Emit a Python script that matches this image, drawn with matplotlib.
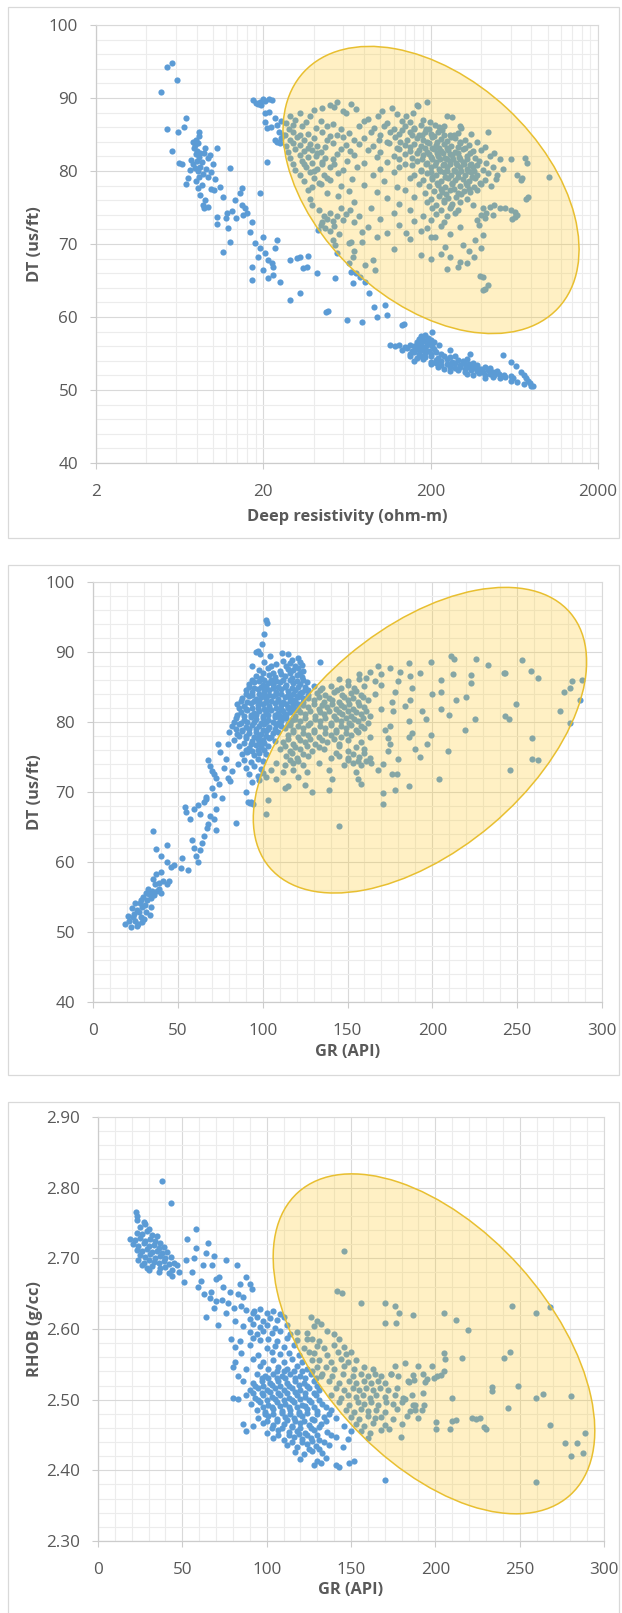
import numpy as np
import matplotlib
matplotlib.use("Agg")
import matplotlib.pyplot as plt
from matplotlib.patches import Ellipse, Rectangle
from matplotlib.transforms import ScaledTranslation
from matplotlib.ticker import FixedLocator, MultipleLocator, FuncFormatter

plt.rcParams['font.family'] = ['Open Sans', 'DejaVu Sans']

# ---------- panel 1 : deep resistivity (ohm-m) vs DT (us/ft) ----------
shale_res_dt = [
    (4.9, 90.8), (5.3, 94.2), (5.7, 94.8), (6.1, 92.4),
    (5.3, 85.8), (5.7, 82.8), (6.2, 85.4), (6.7, 86.0), (6.9, 87.3), (6.3, 81.1), (6.5, 81.0),
    (6.9, 78.2), (7.1, 79.0), (7.3, 80.2), (7.4, 81.5),
    (7.6, 84.0), (7.8, 83.6), (7.9, 84.3), (7.7, 83.1), (8.0, 82.8), (8.1, 83.8), (8.2, 84.8),
    (8.3, 85.3), (7.9, 82.3), (8.2, 81.9), (8.4, 82.5), (8.0, 81.4), (7.6, 80.9), (7.8, 80.4),
    (8.1, 80.0), (8.4, 80.6), (8.6, 81.2), (8.8, 82.4), (9.0, 83.1), (8.7, 79.6), (8.3, 79.2),
    (7.9, 78.6), (8.1, 77.7), (8.6, 78.1), (9.1, 80.3), (9.4, 81.8), (9.6, 82.2), (9.3, 79.2),
    (9.8, 79.8), (10.3, 78.9), (10.6, 83.2), (10.0, 81.0), (9.7, 77.6), (10.2, 77.4), (8.4, 76.7),
    (8.7, 75.3), (9.3, 75.1), (8.9, 74.9), (9.0, 76.0),
    (10.6, 73.7), (10.6, 72.8), (11.5, 68.9), (12.6, 70.3), (12.3, 72.2), (12.1, 74.2), (11.5, 76.4),
    (13.5, 76.0), (14.5, 77.0), (14.9, 77.7), (12.6, 80.4), (14.9, 75.3), (15.6, 74.9), (16.0, 74.2),
    (17.2, 73.0), (16.6, 71.6), (17.9, 70.1), (19.1, 69.5), (20.4, 68.8), (21.3, 67.8), (22.5, 67.4),
    (17.0, 66.9), (17.0, 65.1), (20.0, 71.0), (19.1, 77.0), (21.0, 81.3), (24.0, 70.5), (23.4, 69.4),
    (22.8, 66.9), (21.4, 65.3), (22.8, 65.8), (25.0, 64.8), (18.5, 68.2), (19.8, 66.4), (13.0, 74.5),
    (11.0, 77.8), (12.0, 73.5), (13.8, 73.6), (15.2, 74.0),
    (17.3, 89.7), (18.2, 89.3), (19.0, 89.5), (19.8, 89.8), (20.6, 89.6), (21.6, 89.9), (22.5, 89.7),
    (19.4, 89.0), (18.7, 89.2), (20.4, 88.0), (21.6, 88.1), (20.6, 86.7), (21.1, 85.9), (23.6, 87.3),
    (24.2, 86.3), (24.8, 85.3), (23.6, 84.2), (24.2, 84.0), (25.6, 84.5), (22.3, 86.0), (25.5, 86.8),
    (26.2, 85.0), (25.0, 83.9),
    (29, 62.3), (33, 63.3), (47.6, 60.7), (48.5, 60.8), (63, 59.6), (78, 59.3), (66.4, 66.2), (72, 66.0),
    (69, 64.7), (75.7, 65.5), (81, 64.8), (86, 63.3), (92, 61.4), (96, 60.0), (109, 60.3), (106, 61.6),
    (135, 58.9), (138, 59.0), (28.9, 67.8), (32.9, 68.2), (34.6, 66.7), (41.6, 66.0), (36.5, 66.9),
    (37, 68.3), (32, 68.1), (42.7, 71.9), (53.6, 69.9), (55, 68.8), (53.6, 65.3), (64.6, 67.4),
]
tight_res_dt = [
    (203, 57.9), (175, 57.4), (185, 57.6), (170, 57.0), (180, 56.9), (192, 57.1), (200, 56.8),
    (165, 56.6), (175, 56.4), (185, 56.7), (195, 56.5), (210, 56.6), (114, 56.1), (122, 56.0),
    (130, 56.2), (140, 55.9), (150, 56.2), (160, 56.0), (170, 56.2), (180, 55.9), (190, 56.1),
    (205, 56.0), (225, 56.2), (135, 55.5), (145, 55.7), (155, 55.4), (165, 55.6), (175, 55.5),
    (185, 55.7), (195, 55.4), (210, 55.6), (260, 55.5), (150, 55.0), (160, 55.2), (170, 54.9),
    (185, 55.1), (200, 55.0), (215, 55.2), (230, 54.9), (345, 55.0), (150, 54.6), (165, 54.4),
    (175, 54.7), (185, 54.5), (200, 54.6), (220, 54.4), (240, 54.7), (260, 54.5), (280, 54.6),
    (540, 54.8), (160, 54.0), (180, 54.2), (200, 53.9), (215, 54.1), (230, 54.0), (250, 54.2),
    (270, 53.9), (290, 54.1), (310, 54.0), (330, 54.2), (200, 53.5), (215, 53.7), (230, 53.4),
    (250, 53.6), (265, 53.5), (280, 53.7), (300, 53.4), (320, 53.6), (340, 53.5), (360, 53.7),
    (380, 53.4), (608, 53.8), (220, 53.1), (240, 52.9), (260, 53.2), (280, 53.0), (300, 53.1),
    (320, 52.9), (340, 53.2), (360, 53.0), (380, 53.1), (400, 52.9), (420, 53.2), (450, 53.0),
    (650, 53.3), (260, 52.6), (290, 52.7), (320, 52.5), (350, 52.7), (380, 52.6), (410, 52.4),
    (440, 52.7), (470, 52.5), (500, 52.6), (690, 52.5), (330, 52.2), (360, 52.0), (390, 52.3),
    (420, 52.1), (450, 52.2), (480, 52.0), (510, 52.2), (550, 52.1), (600, 51.9), (720, 52.1),
    (420, 51.7), (470, 51.8), (520, 51.6), (560, 51.8), (620, 51.6), (740, 51.7), (600, 51.2),
    (660, 51.1), (760, 51.3), (720, 50.8), (780, 50.9), (800, 50.5), (820, 50.6),
]
pay_res_dt = [
    (50, 89.1), (55, 89.4), (67, 89.2), (165, 89.0), (190, 89.5),
    (40, 88.3), (45, 88.6), (53, 88.7), (60, 88.2), (72, 88.5), (103, 88.2), (118, 88.6), (168, 88.9),
    (29, 87.5), (33, 87.9), (38, 87.6), (62, 87.9), (97, 87.6), (125, 87.8), (143, 87.5), (157, 87.9),
    (250, 87.6), (270, 87.4),
    (27.5, 86.6), (31, 87.0), (36, 86.7), (44, 86.9), (52, 86.5), (80, 86.8), (85, 87.1), (110, 86.6),
    (135, 86.9), (150, 86.7), (180, 87.0), (198, 86.7), (212, 86.3), (300, 86.1),
    (28.5, 85.8), (34, 86.2), (41, 85.9), (48, 86.1), (58, 85.7), (75, 86.1), (92, 85.9), (105, 86.2),
    (120, 85.8), (140, 86.1), (160, 85.9), (175, 86.3), (188, 85.7), (225, 86.0), (240, 86.2),
    (303, 85.9), (440, 85.3),
    (27, 85.0), (30, 85.4), (37, 85.1), (45, 85.3), (55, 84.9), (65, 85.2), (88, 85.4), (100, 85.0),
    (115, 85.3), (130, 85.1), (150, 85.4), (170, 85.0), (185, 85.3), (200, 85.1), (220, 85.4),
    (260, 85.0), (290, 85.2), (350, 85.1),
    (29, 84.2), (32, 84.6), (35, 84.3), (40, 84.5), (48, 84.2), (60, 84.6), (70, 84.3), (80, 84.5),
    (98, 84.2), (122, 84.6), (145, 84.3), (165, 84.5), (180, 84.2), (205, 84.6), (230, 84.4),
    (250, 84.1), (280, 84.5), (320, 84.3), (380, 84.0), (265, 84.7),
    (27.5, 83.4), (30, 83.8), (33, 83.5), (38, 83.7), (42, 83.4), (52, 83.8), (62, 83.5), (75, 83.7),
    (90, 83.4), (112, 83.8), (140, 83.5), (160, 83.7), (175, 83.4), (195, 83.8), (215, 83.5),
    (240, 83.7), (265, 83.4), (300, 83.8), (340, 83.5), (420, 83.3),
    (28, 82.6), (31, 83.0), (35, 82.7), (39, 82.9), (44, 82.6), (58, 83.0), (66, 82.7), (85, 82.9),
    (100, 82.6), (130, 83.0), (150, 82.7), (170, 82.9), (190, 82.6), (210, 83.0), (230, 82.7),
    (255, 82.9), (280, 82.6), (310, 83.0), (360, 82.7), (400, 82.9), (480, 82.5),
    (29, 81.8), (33, 82.2), (37, 81.9), (41, 82.1), (47, 81.8), (70, 82.2), (95, 81.9), (120, 82.1),
    (155, 81.8), (180, 82.2), (200, 81.9), (220, 82.1), (245, 81.8), (270, 82.2), (295, 81.9),
    (330, 82.1), (370, 81.8), (450, 82.0), (520, 81.7),
    (30, 81.0), (34, 81.4), (39, 81.1), (45, 81.3), (53, 81.0), (63, 81.4), (80, 81.1), (110, 81.3),
    (140, 81.0), (165, 81.4), (190, 81.1), (215, 81.3), (240, 81.0), (260, 81.4), (285, 81.1),
    (310, 81.3), (350, 81.0), (390, 81.4), (430, 81.1), (600, 81.6), (735, 81.8),
    (31, 80.2), (36, 80.6), (42, 80.3), (50, 80.5), (60, 80.2), (73, 80.6), (100, 80.3), (130, 80.5),
    (175, 80.2), (200, 80.6), (225, 80.3), (250, 80.5), (275, 80.2), (300, 80.6), (330, 80.3),
    (360, 80.5), (410, 80.2), (470, 80.6), (540, 80.3), (757, 81.1),
    (33, 79.4), (38, 79.8), (46, 79.5), (56, 79.7), (90, 79.4), (120, 79.8), (160, 79.5), (190, 79.7),
    (215, 79.4), (240, 79.8), (265, 79.5), (290, 79.7), (320, 79.4), (350, 79.8), (380, 79.5),
    (440, 79.7), (500, 79.4), (660, 79.4), (700, 79.0),
    (35, 78.6), (40, 79.0), (50, 78.7), (68, 78.9), (105, 78.6), (150, 79.0), (180, 78.7), (205, 78.9),
    (230, 78.6), (255, 79.0), (280, 78.7), (310, 78.9), (340, 78.6), (370, 79.0), (420, 78.7),
    (490, 78.9), (694, 78.8), (1016, 79.2),
    (39, 77.8), (44, 78.2), (58, 77.9), (80, 78.1), (125, 77.8), (170, 78.2), (195, 77.9), (220, 78.1),
    (245, 77.8), (270, 78.2), (300, 77.9), (330, 78.1), (365, 77.8), (400, 78.2), (460, 77.9),
    (37, 77.4), (48, 77.0), (65, 77.3), (95, 77.1), (140, 77.4), (185, 77.0), (210, 77.3), (235, 77.1),
    (260, 77.4), (290, 77.0), (315, 77.3), (345, 77.1), (380, 77.4),
    (38, 76.2), (56, 76.6), (110, 76.3), (160, 76.5), (200, 76.2), (225, 76.6), (255, 76.3),
    (285, 76.5), (330, 76.2), (765, 76.4), (740, 76.2),
    (39, 75.4), (70, 75.8), (130, 75.5), (190, 75.7), (215, 75.4), (240, 75.8), (270, 75.5),
    (300, 75.7), (360, 75.4), (480, 75.3),
    (43, 74.6), (58, 75.0), (66, 74.7), (88, 74.9), (150, 74.6), (205, 75.0), (230, 74.7), (260, 74.9),
    (290, 74.6), (410, 74.9), (450, 75.1), (520, 75.0), (560, 74.9), (600, 74.6), (640, 74.4),
    (46, 73.8), (50, 74.2), (55, 73.9), (62, 74.1), (75, 73.8), (120, 74.2), (180, 73.9), (215, 74.1),
    (250, 73.8), (280, 74.2), (400, 74.0), (430, 74.3), (470, 74.0), (640, 73.7), (660, 74.0),
    (45, 73.0), (48, 73.4), (52, 73.1), (60, 73.3), (70, 73.0), (100, 73.4), (160, 73.1), (200, 73.3),
    (240, 73.0), (380, 73.3), (420, 73.6), (610, 73.4),
    (44, 72.6), (47, 72.2), (53, 72.5), (85, 72.3), (130, 72.6), (190, 72.2), (230, 72.5), (300, 72.3),
    (390, 72.6),
    (50, 71.8), (57, 71.4), (78, 71.7), (110, 71.5), (143, 71.5), (175, 71.8), (212, 71.0), (260, 71.4),
    (410, 71.2),
    (52, 70.6), (67, 70.3), (95, 70.9), (150, 70.7), (200, 70.9), (310, 69.9), (370, 70.5),
    (65, 70.1), (78, 70.3), (242, 69.6), (398, 69.5),
    (70, 69.0), (120, 69.3), (174, 68.5), (260, 68.2), (340, 69.1),
    (69, 68.2), (90, 67.8), (200, 68.0), (364, 68.2), (230, 68.6),
    (81, 67.1), (290, 66.8), (330, 67.4), (93, 66.4), (250, 66.6), (300, 67.5), (393, 65.6),
    (410, 65.5), (440, 64.4), (410, 63.7), (425, 63.9),
    (135, 85.6), (158, 85.7), (178, 84.9), (195, 85.8), (210, 84.8), (235, 85.6), (275, 84.9),
    (110, 84.0), (132, 84.0), (155, 84.9), (190, 84.0), (218, 84.0), (240, 84.9), (300, 84.0),
    (125, 83.2), (150, 83.3), (185, 83.2), (205, 83.1), (225, 83.2), (252, 83.2), (290, 83.3), (320, 83.2),
    (140, 82.3), (165, 82.4), (195, 82.3), (218, 82.4), (238, 82.4), (262, 82.3), (290, 82.4), (345, 82.4),
    (130, 81.6), (178, 81.7), (203, 81.6), (228, 81.6), (250, 81.7), (272, 81.7), (298, 81.6), (330, 81.6),
    (155, 80.8), (188, 80.9), (212, 80.8), (238, 80.8), (262, 80.9), (288, 80.8), (315, 80.9),
    (345, 80.8), (380, 80.8),
    (175, 80.0), (200, 79.9), (228, 80.0), (252, 80.0), (278, 80.0), (305, 80.0), (335, 80.0), (365, 80.0),
    (205, 79.2), (218, 78.3), (243, 79.2), (268, 78.3), (292, 79.2), (325, 78.3), (355, 79.2), (395, 78.3),
    (230, 77.6), (248, 76.8), (275, 77.6), (305, 76.8), (340, 77.6), (240, 76.0), (265, 75.2),
    (30, 86.3), (33, 84.9), (37, 83.2), (42, 82.5), (35, 80.9), (40, 80.0), (45, 80.9), (48, 79.1),
    (43, 78.4), (52, 81.7), (55, 82.3), (47, 83.3), (50, 84.8),
]

# ---------- panel 2 : GR (API) vs DT (us/ft) ----------
shale_gr_dt = [
    (18.7, 51.2), (22.3, 50.7), (25.8, 50.8), (21, 51.6), (23.4, 52.1), (25, 51.5), (27, 52.9),
    (24, 52.6), (26, 53.2), (28, 52.2), (29, 53.5), (30.5, 53.9), (27.5, 54.1), (31, 52.8),
    (32, 54.5), (29.5, 55.0), (33, 55.4), (34, 54.8), (35, 55.9), (32.5, 56.1), (36, 55.3),
    (36.3, 56.8), (37.5, 55.8), (38.7, 57.0), (41, 57.3), (43.4, 56.8), (44.5, 57.3), (39, 56.2),
    (40, 55.6), (34, 53.6), (30, 51.8), (26.5, 51.2), (23, 53.4), (28, 54.6), (31.5, 55.6),
    (35.5, 57.5), (37, 58.3), (39.8, 58.5), (33.5, 52.4), (20.5, 52.3), (24.5, 54.1), (29, 51.4),
    (35.2, 64.4), (43.4, 62.4), (43.4, 60.0), (45.7, 59.3), (48, 59.5), (51.6, 59.2), (52.7, 60.5),
    (56.2, 58.8), (55, 67.1), (54, 67.8), (57.4, 66.1), (59.8, 67.6), (62.1, 68.1), (63.3, 66.9),
    (65.6, 68.6), (66.8, 69.3), (62.1, 60.0), (63.3, 61.7), (64.5, 62.7), (65.6, 63.7), (68, 65.4),
    (58.6, 63.2), (59.8, 62.0), (69.1, 66.6), (71.5, 66.1), (72.6, 67.6), (72.6, 64.6), (70.3, 70.5),
    (71.5, 69.6), (76.2, 69.1), (68, 74.5), (69.1, 73.7), (71.5, 72.5), (72.6, 72.0), (75, 75.7),
    (73.8, 76.9), (79.7, 76.9), (78.5, 74.7), (79.7, 72.0), (80.9, 71.5), (85.5, 74.0), (84.4, 65.6),
    (90.2, 70.0), (91.4, 68.6), (92.6, 68.4), (37, 61.8), (40, 60.9), (66.5, 69.0), (70, 73.0),
    (74, 71.2), (77, 73.4), (82, 73.0), (61, 60.9), (67, 64.8),
    (102, 94.6), (102.4, 94.1), (100.8, 92.6), (99.6, 91.2), (97.3, 90.2), (98.4, 89.7), (104.3, 89.4),
    (111.3, 89.9), (115, 89.7), (117, 88.9), (120.7, 89.2), (123, 88.2), (133.6, 88.5), (96, 90.0),
    (101, 88.6), (108, 88.3), (112, 88.7), (116, 88.4), (122, 88.5),
    (98, 87.4), (103, 87.7), (110, 87.3), (115, 87.6), (118, 87.4), (121, 87.7), (124, 87.3),
    (96, 86.6), (99, 86.3), (104, 86.7), (107, 86.4), (113, 86.6), (117, 86.3), (120, 86.7), (123, 86.4),
    (92, 85.4), (95, 85.7), (100, 85.3), (103, 85.6), (106, 85.4), (110, 85.7), (114, 85.3),
    (118, 85.6), (122, 85.4), (126, 85.7),
    (90, 84.6), (94, 84.3), (97, 84.7), (101, 84.4), (104, 84.6), (108, 84.3), (111, 84.7),
    (115, 84.4), (119, 84.6), (123, 84.3), (127, 84.5),
    (88, 83.4), (92, 83.7), (96, 83.3), (99, 83.6), (102, 83.4), (106, 83.7), (109, 83.3),
    (113, 83.6), (116, 83.4), (120, 83.7), (124, 83.4),
    (85, 82.6), (89, 82.3), (93, 82.7), (97, 82.4), (100, 82.6), (104, 82.3), (107, 82.7),
    (111, 82.4), (114, 82.6), (118, 82.3), (121, 82.6),
    (87, 81.4), (91, 81.7), (95, 81.3), (98, 81.6), (102, 81.4), (105, 81.7), (109, 81.3),
    (112, 81.6), (116, 81.4), (119, 81.7),
    (84, 80.6), (89, 80.3), (93, 80.7), (96, 80.4), (100, 80.6), (103, 80.3), (107, 80.7),
    (110, 80.4), (113, 80.6), (117, 80.3),
    (82, 79.4), (86, 79.7), (90, 79.3), (94, 79.6), (98, 79.4), (101, 79.7), (104, 79.3),
    (108, 79.6), (111, 79.4), (115, 79.7),
    (80, 78.6), (85, 78.3), (88, 78.7), (92, 78.4), (96, 78.6), (99, 78.3), (102, 78.7), (106, 78.4),
    (109, 78.6),
    (83, 77.4), (90, 77.7), (94, 77.3), (97, 77.6), (100, 77.4), (104, 77.7), (107, 77.3),
    (86, 76.6), (92, 76.3), (96, 76.7), (99, 76.4), (103, 76.6),
    (88, 75.4), (91, 75.7), (95, 75.3), (98, 75.6), (102, 75.4),
    (89, 74.6), (93, 74.3), (97, 74.7), (100, 74.4),
    (90, 73.4), (95, 73.7), (99, 73.3), (92, 72.6), (97, 72.3), (100, 72.7),
    (94, 71.4), (98, 71.7), (93, 68.5), (94.5, 68.3),
    (94, 88.0), (105, 88.0), (114, 88.0), (119, 88.0),
    (100, 87.0), (106, 87.0), (111, 86.9), (116, 87.0), (122, 87.0),
    (94, 86.0), (98, 85.9), (101, 86.0), (105, 86.0), (108, 85.9), (112, 86.0), (116, 86.0),
    (120, 85.9), (124, 86.0),
    (92, 85.0), (95, 84.9), (99, 85.0), (102, 85.0), (106, 84.9), (109, 85.0), (113, 85.0),
    (117, 84.9), (121, 85.0), (125, 85.0),
    (90, 84.0), (94, 83.9), (98, 84.0), (101, 84.0), (104, 83.9), (108, 84.0), (111, 84.0),
    (115, 83.9), (118, 84.0), (122, 84.0),
    (87, 83.0), (91, 82.9), (95, 83.0), (98, 83.0), (102, 82.9), (105, 83.0), (109, 83.0),
    (112, 82.9), (116, 83.0), (119, 83.0),
    (86, 82.0), (90, 81.9), (94, 82.0), (97, 82.0), (101, 81.9), (104, 82.0), (108, 82.0),
    (111, 81.9), (115, 82.0), (118, 82.0),
    (85, 81.0), (89, 80.9), (93, 81.0), (96, 81.0), (100, 80.9), (103, 81.0), (107, 81.0),
    (110, 80.9), (114, 81.0),
    (83, 80.0), (87, 79.9), (91, 80.0), (95, 80.0), (99, 79.9), (102, 80.0), (106, 80.0), (109, 79.9),
    (84, 79.0), (88, 78.9), (92, 79.0), (96, 79.0), (100, 78.9), (103, 79.0), (107, 79.0),
    (86, 78.0), (90, 78.0), (95, 77.9), (98, 78.0), (102, 78.0), (105, 77.9),
    (89, 77.0), (93, 76.9), (98, 77.0), (101, 77.0), (90, 76.0), (94, 75.9), (97, 76.0), (101, 76.0),
]
pay_gr_dt = [
    (168, 88.0), (186, 88.4), (199, 88.5), (211, 89.4), (226, 89.0), (233, 88.2), (213, 89.0),
    (157, 86.8), (163, 87.2), (170, 86.9), (175, 87.7), (181, 87.2), (193, 87.0), (212, 86.8), (242, 87.0),
    (145, 86.2), (150, 85.8), (157, 86.1), (161, 86.3), (166, 85.9), (187, 86.5), (205, 86.0),
    (223, 85.5), (222.6, 86.7),
    (130, 85.2), (135, 84.8), (140, 85.1), (146, 84.9), (150, 85.3), (154, 84.8), (160, 85.2),
    (170, 85.3), (180, 85.8), (188, 84.9),
    (122, 84.2), (127, 83.8), (132, 84.1), (137, 83.9), (142, 84.3), (147, 83.8), (152, 84.2),
    (158, 83.9), (166, 84.0), (178, 84.3), (200, 84.0), (205, 84.3),
    (118, 83.1), (124, 82.8), (130, 83.2), (136, 82.9), (141, 83.1), (145, 82.8), (150, 83.2),
    (156, 82.9), (162, 83.1), (176, 82.8), (187, 83.2), (214, 83.1), (220, 83.5),
    (115, 82.2), (121, 81.8), (127, 82.1), (133, 81.9), (138, 82.2), (143, 81.8), (148, 82.1),
    (153, 81.9), (160, 82.2), (170, 81.8), (184, 82.3), (205, 81.8),
    (113, 81.1), (119, 80.8), (125, 81.2), (131, 80.9), (136, 81.1), (142, 80.8), (147, 81.2),
    (152, 80.9), (158, 81.1), (163, 80.8), (177, 81.6), (194, 81.6), (210, 81.0),
    (111, 80.1), (116, 79.8), (122, 80.2), (128, 79.9), (134, 80.1), (140, 79.8), (146, 80.2),
    (151, 79.9), (156, 80.1), (162, 79.8), (175, 79.4), (186, 80.1), (196, 80.4), (225, 80.4), (245, 80.4),
    (113, 79.2), (118, 78.8), (124, 79.1), (130, 78.9), (137, 79.2), (143, 78.8), (149, 79.1),
    (155, 78.9), (160, 79.2), (172, 78.8), (188, 78.4), (199, 78.2), (219, 78.9),
    (115, 78.1), (121, 77.8), (127, 78.2), (133, 77.9), (140, 78.1), (146, 77.8), (152, 78.2),
    (163, 77.9), (174, 77.7), (186, 77.9), (197, 76.9),
    (112, 77.1), (118, 76.8), (125, 77.2), (131, 76.9), (138, 77.1), (145, 76.8), (158, 77.2),
    (175, 76.9), (209, 75.9),
    (110, 76.2), (116, 75.8), (122, 76.1), (129, 75.9), (136, 76.2), (150, 75.8), (160, 76.1),
    (174, 75.9), (190, 76.1),
    (114, 75.1), (120, 74.8), (127, 75.2), (140, 74.9), (145, 75.1), (150, 74.8), (157, 75.0),
    (163, 74.9), (193, 75.0), (259, 74.7),
    (108, 74.2), (113, 73.8), (118, 74.1), (124, 73.9), (133, 74.2), (148, 73.8), (153, 74.2),
    (158, 73.9), (164, 74.2), (171, 74.0), (180, 74.7), (262.5, 74.5),
    (105, 73.1), (112, 72.8), (118, 73.2), (126, 72.9), (139, 73.1), (155, 72.8), (168, 73.1),
    (176, 72.5), (246, 73.2),
    (102, 72.2), (108, 71.8), (121, 72.1), (141, 71.9), (156, 71.8), (179, 72.5), (204, 71.8),
    (115, 70.8), (125, 71.0), (129, 70.0), (158, 71.2), (178, 70.3), (186, 70.8),
    (113, 70.6), (139, 70.3), (171, 69.8), (103, 68.8), (171, 68.3), (102, 66.9), (145, 65.1),
    (253, 88.8), (258, 87.3), (262.5, 86.3), (282.4, 85.8), (288.3, 86.0), (277.7, 84.3), (281, 84.8),
    (275.4, 81.6), (281.2, 79.9), (287, 83.1), (249.6, 82.6), (242.6, 80.9), (259, 77.7), (242.6, 87.0),
    (125, 84.6), (134, 84.5), (144, 84.5), (155, 84.4),
    (121, 83.5), (127, 83.4), (133, 83.5), (139, 83.4), (148, 83.5), (153, 83.4), (159, 83.5),
    (118, 82.5), (124, 82.4), (130, 82.5), (135, 82.4), (141, 82.5), (146, 82.4), (151, 82.5), (157, 82.4),
    (116, 81.5), (122, 81.4), (128, 81.5), (134, 81.4), (139, 81.5), (145, 81.4), (150, 81.5),
    (155, 81.4), (161, 81.5),
    (114, 80.5), (119, 80.4), (125, 80.5), (131, 80.4), (137, 80.5), (143, 80.4), (149, 80.5),
    (154, 80.4), (159, 80.5),
    (116, 79.5), (121, 79.4), (127, 79.5), (134, 79.4), (140, 79.5), (146, 79.4), (152, 79.5), (158, 79.4),
    (118, 78.5), (124, 78.4), (130, 78.5), (137, 78.4), (143, 78.5), (149, 78.4), (156, 78.5),
    (115, 77.5), (122, 77.4), (128, 77.5), (135, 77.4), (142, 77.5), (150, 77.4),
    (113, 76.5), (119, 76.4), (126, 76.5), (133, 76.4), (145, 76.5), (155, 76.4),
    (117, 75.5), (124, 75.4), (143, 75.5), (153, 75.4), (160, 75.5),
    (116, 74.5), (121, 74.4), (150, 74.5), (156, 74.4), (161, 74.4),
]

# ---------- panel 3 : GR (API) vs RHOB (g/cc) ----------
shale_gr_rhob = [
    (38, 2.810), (43.3, 2.779),
    (22.5, 2.765), (23, 2.760), (23, 2.754), (27, 2.752), (25, 2.745), (28, 2.748), (30, 2.742),
    (23, 2.736), (26, 2.734), (29, 2.738), (32, 2.733), (35, 2.731), (19, 2.728), (22, 2.726),
    (25, 2.729), (28, 2.725), (31, 2.727), (34, 2.724), (37, 2.722), (21, 2.720), (24, 2.718),
    (27, 2.721), (30, 2.717), (33, 2.719), (36, 2.715), (39, 2.716), (23, 2.712), (26, 2.710),
    (29, 2.713), (32, 2.709), (35, 2.711), (38, 2.707), (41, 2.709), (25, 2.705), (28, 2.702),
    (31, 2.706), (34, 2.701), (37, 2.703), (40, 2.700), (43, 2.702), (24, 2.697), (27, 2.694),
    (30, 2.698), (33, 2.695), (36, 2.693), (39, 2.696), (42, 2.692), (45, 2.694), (26, 2.690),
    (29, 2.687), (32, 2.689), (37, 2.686), (40, 2.688), (44, 2.684), (30, 2.683), (36, 2.680),
    (42, 2.679), (44, 2.675), (47, 2.690),
    (52.3, 2.698), (57, 2.700), (58.2, 2.715), (58.2, 2.742), (52.7, 2.727), (65.2, 2.722),
    (64, 2.708), (68.8, 2.703), (67.6, 2.691), (70, 2.671), (72, 2.673), (75.8, 2.698), (51.1, 2.666),
    (55.8, 2.681), (59.3, 2.659), (62.9, 2.649), (66.4, 2.644), (70, 2.639), (73.5, 2.641),
    (77, 2.637), (64, 2.617), (71.1, 2.605), (80.5, 2.630), (82.9, 2.649), (84.1, 2.664),
    (82.4, 2.690), (87.6, 2.673), (89.9, 2.664), (91.1, 2.656), (92.3, 2.625), (48, 2.680),
    (61, 2.668), (67, 2.652), (74, 2.660), (78, 2.652), (86, 2.645), (62, 2.690), (69, 2.630),
    (76, 2.622), (81, 2.612), (85, 2.632),
    (88, 2.627), (92, 2.622), (96, 2.628), (100, 2.623), (104, 2.626), (108, 2.621),
    (90, 2.614), (94, 2.617), (98, 2.612), (102, 2.616), (106, 2.613), (110, 2.617),
    (86, 2.604), (92, 2.607), (96, 2.603), (100, 2.606), (105, 2.602), (112, 2.606),
    (90, 2.596), (94, 2.593), (98, 2.597), (103, 2.594), (108, 2.597), (114, 2.593), (118, 2.596),
    (79, 2.586), (84, 2.583), (92, 2.587), (96, 2.584), (101, 2.586), (106, 2.583), (112, 2.587),
    (118, 2.584), (124, 2.586),
    (81, 2.574), (90, 2.577), (100, 2.573), (105, 2.576), (110, 2.574), (116, 2.577), (122, 2.573),
    (85, 2.566), (95, 2.563), (103, 2.567), (108, 2.564), (113, 2.566), (119, 2.563), (125, 2.567),
    (81, 2.554), (92, 2.557), (98, 2.553), (104, 2.556), (110, 2.554), (115, 2.557), (121, 2.553),
    (127, 2.556),
    (80, 2.546), (88, 2.543), (96, 2.547), (101, 2.544), (107, 2.546), (112, 2.543), (118, 2.547),
    (124, 2.544), (130, 2.546),
    (83, 2.534), (94, 2.537), (99, 2.533), (104, 2.536), (109, 2.534), (114, 2.537), (120, 2.533),
    (126, 2.536), (132, 2.534),
    (86, 2.526), (92, 2.523), (97, 2.527), (102, 2.524), (107, 2.526), (112, 2.523), (117, 2.527),
    (122, 2.524), (128, 2.526),
    (90, 2.514), (95, 2.517), (100, 2.513), (105, 2.516), (110, 2.514), (115, 2.517), (120, 2.513),
    (125, 2.516), (131, 2.514),
    (80, 2.503), (83, 2.501), (88, 2.506), (93, 2.503), (98, 2.507), (103, 2.504), (108, 2.506),
    (113, 2.503), (118, 2.507), (123, 2.504), (129, 2.506),
    (91, 2.494), (96, 2.497), (101, 2.493), (106, 2.496), (111, 2.494), (116, 2.497), (121, 2.493),
    (126, 2.496), (133, 2.494),
    (94, 2.486), (99, 2.483), (104, 2.487), (109, 2.484), (114, 2.486), (119, 2.483), (124, 2.487),
    (130, 2.484), (138, 2.486),
    (95, 2.474), (101, 2.477), (106, 2.473), (111, 2.476), (116, 2.474), (121, 2.477), (127, 2.473),
    (134, 2.476), (141, 2.474),
    (86, 2.466), (92, 2.463), (98, 2.467), (104, 2.464), (110, 2.466), (115, 2.463), (120, 2.467),
    (125, 2.464), (132, 2.466), (146, 2.463),
    (88, 2.456), (100, 2.453), (107, 2.457), (113, 2.454), (118, 2.456), (123, 2.453), (128, 2.457),
    (136, 2.454), (150, 2.456),
    (104, 2.446), (110, 2.443), (116, 2.447), (121, 2.444), (126, 2.446), (131, 2.443), (141, 2.447),
    (148, 2.444),
    (112, 2.436), (118, 2.433), (124, 2.437), (129, 2.434), (137, 2.436), (145, 2.433),
    (117, 2.426), (122, 2.423), (127, 2.427), (133, 2.424),
    (120, 2.416), (130, 2.413), (135, 2.417), (152, 2.413),
    (128, 2.408), (132, 2.410), (141, 2.407), (143, 2.405), (149, 2.410), (170, 2.386),
    (106, 2.540), (110, 2.540), (116, 2.540), (121, 2.541), (127, 2.540),
    (97, 2.530), (101, 2.530), (106, 2.531), (111, 2.530), (117, 2.530), (123, 2.531), (129, 2.530),
    (93, 2.520), (98, 2.520), (103, 2.521), (108, 2.520), (113, 2.520), (119, 2.521), (124, 2.520),
    (130, 2.520),
    (92, 2.510), (97, 2.510), (102, 2.511), (107, 2.510), (112, 2.510), (117, 2.511), (123, 2.510),
    (128, 2.510),
    (95, 2.500), (100, 2.500), (105, 2.501), (110, 2.500), (115, 2.500), (120, 2.501), (125, 2.500),
    (131, 2.500),
    (98, 2.490), (103, 2.490), (108, 2.491), (113, 2.490), (118, 2.490), (123, 2.491), (128, 2.490),
    (135, 2.490),
    (99, 2.480), (104, 2.480), (109, 2.481), (114, 2.480), (119, 2.480), (124, 2.481), (130, 2.480),
    (137, 2.480),
    (100, 2.470), (106, 2.470), (112, 2.471), (117, 2.470), (122, 2.470), (128, 2.471), (135, 2.470),
    (103, 2.460), (109, 2.460), (115, 2.461), (120, 2.460), (126, 2.460), (131, 2.461),
    (107, 2.450), (113, 2.450), (119, 2.451), (124, 2.450), (130, 2.450), (138, 2.450),
    (115, 2.440), (121, 2.440), (127, 2.441), (134, 2.440), (125, 2.430), (131, 2.430),
]
pay_gr_rhob = [
    (126, 2.617), (130, 2.612), (128, 2.604), (132, 2.607), (124, 2.594), (136, 2.597), (140, 2.593),
    (127, 2.586), (131, 2.583), (143, 2.586), (130, 2.576), (134, 2.573), (140, 2.577), (146, 2.574),
    (128, 2.566), (136, 2.563), (142, 2.567), (147, 2.564), (150, 2.567), (131, 2.556), (138, 2.553),
    (144, 2.557), (148, 2.554), (153, 2.556), (135, 2.546), (140, 2.543), (146, 2.547), (152, 2.544),
    (158, 2.546), (163, 2.543),
    (133, 2.536), (139, 2.533), (145, 2.537), (151, 2.534), (156, 2.536), (160, 2.533), (164, 2.537),
    (168, 2.534), (174, 2.536), (178, 2.533),
    (137, 2.526), (143, 2.523), (149, 2.527), (153, 2.524), (158, 2.526), (162, 2.523), (166, 2.527),
    (170, 2.524), (184, 2.526),
    (141, 2.516), (146, 2.513), (151, 2.517), (155, 2.514), (159, 2.516), (163, 2.513), (167, 2.517),
    (172, 2.514), (177, 2.516),
    (138, 2.506), (144, 2.503), (148, 2.507), (153, 2.504), (157, 2.506), (161, 2.503), (165, 2.507),
    (170, 2.504), (176, 2.506), (181, 2.503), (186, 2.507),
    (143, 2.496), (149, 2.493), (154, 2.497), (158, 2.494), (162, 2.496), (166, 2.493), (171, 2.497),
    (175, 2.494), (180, 2.496), (188, 2.493),
    (147, 2.486), (152, 2.483), (156, 2.487), (160, 2.484), (165, 2.486), (170, 2.483), (177, 2.487),
    (185, 2.484), (192, 2.486),
    (150, 2.476), (155, 2.473), (160, 2.477), (164, 2.474), (168, 2.476), (175, 2.473), (183, 2.477),
    (190, 2.474),
    (153, 2.466), (158, 2.463), (163, 2.467), (170, 2.464), (180, 2.466),
    (156, 2.456), (161, 2.453), (168, 2.457), (160, 2.446),
    (146, 2.710), (141.7, 2.654), (144.6, 2.651), (155.9, 2.637), (170, 2.637), (175.8, 2.632),
    (186.5, 2.620), (178.2, 2.622), (170, 2.608), (176.6, 2.609), (205.3, 2.622), (212.4, 2.613),
    (219.4, 2.598), (245.3, 2.632), (259.5, 2.622), (267.7, 2.631), (240.6, 2.559), (244.2, 2.567),
    (216, 2.559), (205.3, 2.566), (205.8, 2.557), (210, 2.503), (233.6, 2.518), (233.6, 2.512),
    (248.9, 2.520), (243, 2.488), (259.5, 2.503), (263.7, 2.508), (280.7, 2.505), (277.1, 2.439),
    (284.2, 2.438), (289, 2.453), (280.7, 2.420), (287.3, 2.425), (267.7, 2.464), (259.5, 2.384),
    (208.9, 2.459), (210, 2.470), (221.8, 2.474), (224, 2.472), (226.5, 2.474), (228.8, 2.462),
    (230, 2.459), (212.4, 2.471), (200.6, 2.459), (200.6, 2.469), (199.4, 2.530), (201, 2.533),
    (203.4, 2.535), (205.3, 2.540), (198.3, 2.547), (192.4, 2.537), (194, 2.525), (192.4, 2.510),
    (193.5, 2.493), (186.5, 2.493), (187.7, 2.486), (181.8, 2.501), (179.4, 2.447), (172.4, 2.459),
    (181.8, 2.552), (176.1, 2.547), (173.8, 2.537), (186.5, 2.535), (187.5, 2.528), (184.1, 2.525),
    (195, 2.529), (190, 2.548),
]

# ---------- styling ----------
W, H = 622, 1613
BLUE = '#5b9bd5'
GRID = '#d9d9d9'
MINOR = '#ececec'
TXT = '#595959'

fig = plt.figure(figsize=(W / 100, H / 100), dpi=100)


def add_axes_px(l, t, r, b):
    return fig.add_axes([l / W, 1 - b / H, (r - l) / W, (b - t) / H])


def frame_px(l, t, r, b):
    fig.add_artist(Rectangle((l / W, 1 - b / H), (r - l) / W, (b - t) / H,
                             transform=fig.transFigure, fill=False,
                             ec=GRID, lw=0.9))


def style(ax):
    ax.set_axisbelow(True)
    ax.grid(which='major', color=GRID, lw=0.8)
    ax.grid(which='minor', color=MINOR, lw=0.8)
    for s in ['top', 'right']:
        ax.spines[s].set_color(GRID)
        ax.spines[s].set_linewidth(0.8)
    for s in ['left', 'bottom']:
        ax.spines[s].set_color('#cccccc')
        ax.spines[s].set_linewidth(0.9)
    ax.tick_params(which='major', length=4, width=0.8, color='#cccccc',
                   labelcolor=TXT, labelsize=12.3)
    ax.tick_params(axis='x', which='major', pad=11)
    ax.tick_params(axis='y', which='major', pad=9)
    ax.tick_params(which='minor', length=0)


def scatter(ax, *groups):
    pts = np.array([p for g in groups for p in g])
    ax.scatter(pts[:, 0], pts[:, 1], s=20, color=BLUE, linewidths=0, zorder=2)


def ellipse(ax, cx, cy, w_px, h_px, angle):
    tr = fig.dpi_scale_trans + ScaledTranslation(cx, cy, ax.transData)
    ax.add_patch(Ellipse((0, 0), w_px / 100, h_px / 100, angle=angle, transform=tr,
                         fc='#ffc81e', alpha=0.26, lw=0, zorder=3))
    ax.add_patch(Ellipse((0, 0), w_px / 100, h_px / 100, angle=angle, transform=tr,
                         fill=False, ec='#e8bf30', lw=1.1, zorder=4))


def labels(ax_box, xlab, ylab, xlab_y):
    l, t, r, b = ax_box
    fig.text((l + r) / 2 / W, 1 - xlab_y / H, xlab, ha='center', va='center',
             fontsize=11.8, fontweight='bold', color=TXT)
    fig.text(35 / W, 1 - (t + b) / 2 / H, ylab, ha='center', va='center',
             rotation=90, fontsize=11.8, fontweight='bold', color=TXT)


fmt = FuncFormatter(lambda v, p: f'{v:g}')

# panel 1
frame_px(8, 7, 619, 538)
box1 = (96, 25, 598, 463)
ax1 = add_axes_px(*box1)
style(ax1)
scatter(ax1, shale_res_dt, tight_res_dt, pay_res_dt)
ax1.set_xscale('log')
ax1.xaxis.set_major_locator(FixedLocator([2, 20, 200, 2000]))
ax1.xaxis.set_minor_locator(FixedLocator([2 * k * 10 ** d for d in range(3) for k in range(2, 10)]))
ax1.xaxis.set_major_formatter(fmt)
ax1.xaxis.set_minor_formatter(FuncFormatter(lambda v, p: ''))
ax1.yaxis.set_major_locator(MultipleLocator(10))
ax1.yaxis.set_minor_locator(MultipleLocator(2))
ax1.set_xlim(2, 2000)
ax1.set_ylim(40, 100)
ellipse(ax1, 201, 77.4, 347, 223, -42.9)
labels(box1, 'Deep resistivity (ohm-m)', 'DT (us/ft)', 517)

# panel 2
frame_px(8, 565, 619, 1075)
box2 = (93, 582, 602, 1002)
ax2 = add_axes_px(*box2)
style(ax2)
scatter(ax2, shale_gr_dt, pay_gr_dt)
ax2.xaxis.set_major_locator(MultipleLocator(50))
ax2.xaxis.set_minor_locator(MultipleLocator(10))
ax2.yaxis.set_major_locator(MultipleLocator(10))
ax2.yaxis.set_minor_locator(MultipleLocator(2))
ax2.set_xlim(0, 300)
ax2.set_ylim(40, 100)
ellipse(ax2, 192.7, 77.4, 394, 222, 40.2)
labels(box2, 'GR (API)', 'DT (us/ft)', 1052)

# panel 3
frame_px(8, 1102, 619, 1625)
box3 = (98, 1117, 604, 1541)
ax3 = add_axes_px(*box3)
style(ax3)
scatter(ax3, shale_gr_rhob, pay_gr_rhob)
ax3.xaxis.set_major_locator(MultipleLocator(50))
ax3.xaxis.set_minor_locator(MultipleLocator(10))
ax3.yaxis.set_major_locator(MultipleLocator(0.1))
ax3.yaxis.set_minor_locator(MultipleLocator(0.02))
ax3.yaxis.set_major_formatter(FuncFormatter(lambda v, p: f'{v:.2f}'))
ax3.set_xlim(0, 300)
ax3.set_ylim(2.3, 2.9)
ellipse(ax3, 199.2, 2.579, 407, 231, -48.1)
labels(box3, 'GR (API)', 'RHOB (g/cc)', 1590)

fig.savefig('out.png', dpi=100)
